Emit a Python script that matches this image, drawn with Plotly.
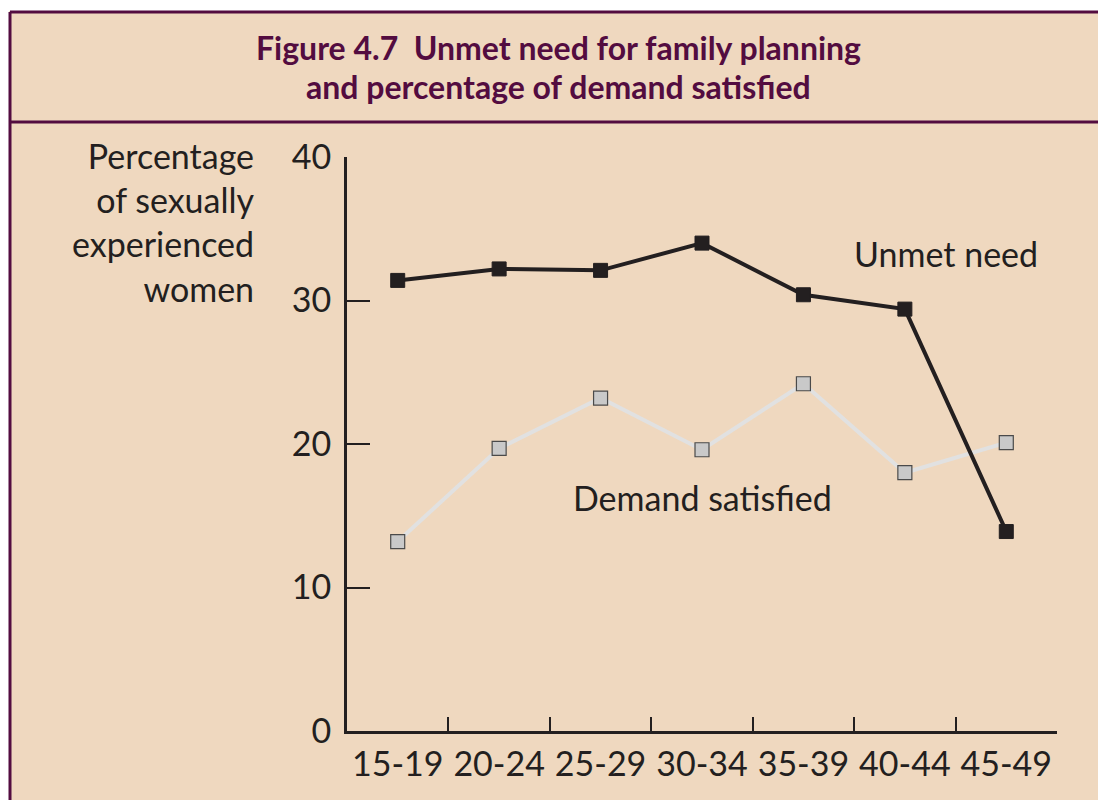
import plotly.graph_objects as go

age_groups = ["15-19", "20-24", "25-29", "30-34", "35-39", "40-44", "45-49"]
unmet_need = [31.4, 32.2, 32.1, 34.0, 30.4, 29.4, 13.9]
demand_satisfied = [13.2, 19.7, 23.2, 19.6, 24.2, 18.0, 20.1]
y_ticks = [0, 10, 20, 30, 40]

W, H = 1098, 800
L, R, T, B = 347, 1057, 157, 731  # plot area in pixels


def px(x):
    return (x - L) / (R - L)


def py(y):
    return (B - y) / (B - T)


BG = "#EFD8BF"
PURPLE = "#530C40"
DARK = "#231F20"
FONT = "Lato, 'Noto Sans', sans-serif"

fig = go.Figure()
fig.add_trace(go.Scatter(
    x=age_groups, y=demand_satisfied, mode="lines+markers",
    line=dict(color="#E1E1E1", width=4),
    marker=dict(symbol="square", size=14, color="#C9C9C9",
                line=dict(color="#4A4A4A", width=1.2)),
    showlegend=False, cliponaxis=False,
))
fig.add_trace(go.Scatter(
    x=age_groups, y=unmet_need, mode="lines+markers",
    line=dict(color=DARK, width=4),
    marker=dict(symbol="square", size=14, color=DARK,
                line=dict(color=DARK, width=1)),
    showlegend=False, cliponaxis=False,
))

shapes = [
    # white margins outside the framed box
    dict(type="rect", xref="paper", yref="paper", layer="below",
         x0=px(-5), x1=px(1200), y0=py(-5), y1=py(11), fillcolor="white", line=dict(width=0)),
    dict(type="rect", xref="paper", yref="paper", layer="below",
         x0=px(-5), x1=px(9), y0=py(-5), y1=py(900), fillcolor="white", line=dict(width=0)),
    # frame lines
    dict(type="line", xref="paper", yref="paper",
         x0=px(10), x1=px(1200), y0=py(12), y1=py(12),
         line=dict(color=PURPLE, width=3)),
    dict(type="line", xref="paper", yref="paper",
         x0=px(10), x1=px(10), y0=py(12), y1=py(900),
         line=dict(color=PURPLE, width=3)),
    dict(type="line", xref="paper", yref="paper",
         x0=px(10), x1=px(1200), y0=py(122), y1=py(122),
         line=dict(color=PURPLE, width=3)),
]

title_font = dict(family=FONT, size=32, color=PURPLE, weight="bold")
annotations = [
    dict(text="Figure 4.7  Unmet need for family planning",
         xref="paper", yref="paper", x=px(558), y=py(48), xanchor="center", yanchor="middle",
         showarrow=False, font=title_font),
    dict(text="and percentage of demand satisfied",
         xref="paper", yref="paper", x=px(558), y=py(87), xanchor="center", yanchor="middle",
         showarrow=False, font=title_font),
    dict(text="Percentage<br>of sexually<br>experienced<br>women",
         xref="paper", yref="paper", x=px(257), y=py(222), xanchor="right", yanchor="middle",
         showarrow=False, align="right",
         font=dict(family=FONT, size=34, color=DARK)),
    dict(text="Unmet need", xref="x", yref="y", x=5.41, y=33.3,
         xanchor="center", yanchor="middle", showarrow=False,
         font=dict(family=FONT, size=34, color=DARK)),
    dict(text="Demand satisfied", xref="x", yref="y", x=3.0, y=16.3,
         xanchor="center", yanchor="middle", showarrow=False,
         font=dict(family=FONT, size=34, color=DARK)),
]

fig.update_layout(
    width=W, height=H,
    margin=dict(l=L, r=W - R, t=T, b=H - B, pad=0, autoexpand=False),
    paper_bgcolor=BG, plot_bgcolor="rgba(0,0,0,0)",
    shapes=shapes, annotations=annotations,
    xaxis=dict(type="category", range=[-0.5, 6.5], showgrid=False, zeroline=False,
               showline=True, linecolor=DARK, linewidth=3, automargin=False, tickangle=0,
               ticks="inside", tickson="boundaries", ticklen=14, tickwidth=2, tickcolor=DARK,
               tickfont=dict(family=FONT, size=34, color=DARK), ticklabelstandoff=1),
    yaxis=dict(range=[0, 40], tickvals=y_ticks, showgrid=False, zeroline=False,
               showline=True, linecolor=DARK, linewidth=3, automargin=False,
               ticks="inside", ticklen=23, tickwidth=2, tickcolor=DARK,
               tickfont=dict(family=FONT, size=34, color=DARK), ticklabelstandoff=6),
)

fig.write_html(
    "out.html",
    config=dict(displayModeBar=False),
    post_script="document.body.style.margin='0';document.body.style.overflow='hidden';",
)
